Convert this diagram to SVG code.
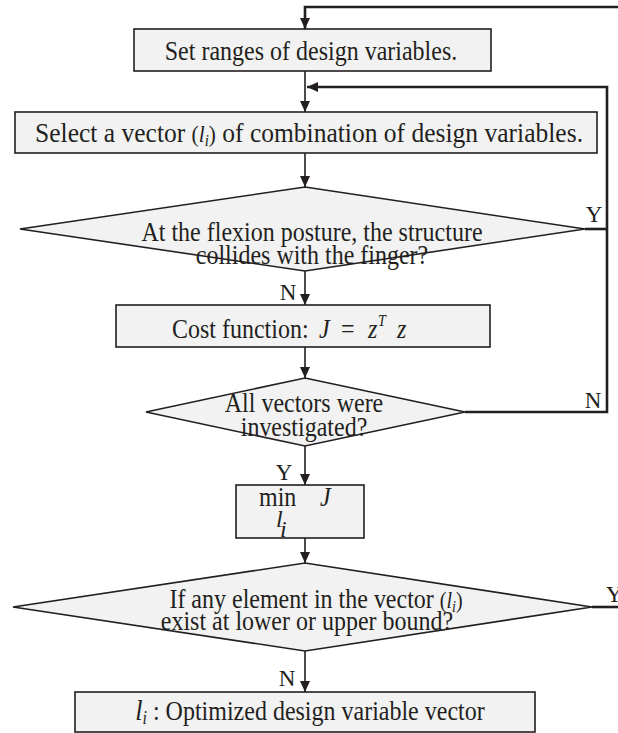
<svg xmlns="http://www.w3.org/2000/svg" width="618" height="733" viewBox="0 0 618 733">
<defs>
<marker id="ah" markerUnits="userSpaceOnUse" markerWidth="12" markerHeight="10" refX="11" refY="5" orient="auto">
<path d="M0,0 L11,5 L0,10 z" fill="#231f20"/>
</marker>
<style>
.n{fill:#f2f2f2;stroke:#231f20;stroke-width:1.6}
.t{font-family:"Liberation Serif","Times New Roman",serif;font-size:24px;fill:#231f20}
.c{text-anchor:middle}
.i{font-style:italic}
.e{fill:none;stroke:#231f20;stroke-width:1.6}
.r{fill:none;stroke:#231f20;stroke-width:2.6}
.lb{font-family:"Liberation Serif","Times New Roman",serif;font-size:23px;fill:#231f20}
</style>
</defs>
<rect width="618" height="733" fill="#ffffff"/>
<g id="connectors">
<path class="r" d="M620,7 H305 V29" marker-end="url(#ah)"/>
<path class="e" d="M305,71 V112" marker-end="url(#ah)"/>
<path class="r" d="M465,412 H607 V87 H307" marker-end="url(#ah)"/>
<path class="r" d="M585,229 H607"/>
<path class="e" d="M305,153 V187" marker-end="url(#ah)"/>
<path class="e" d="M305,271 V305" marker-end="url(#ah)"/>
<path class="e" d="M305,347 V378" marker-end="url(#ah)"/>
<path class="e" d="M305,446 V485" marker-end="url(#ah)"/>
<path class="e" d="M305,538 V563" marker-end="url(#ah)"/>
<path class="r" d="M592,607 H620"/>
<path class="e" d="M305,651 V692" marker-end="url(#ah)"/>
<text class="lb" x="594" y="222" text-anchor="middle">Y</text>
<text class="lb" x="288" y="300" text-anchor="middle">N</text>
<text class="lb" x="593" y="408" text-anchor="middle">N</text>
<text class="lb" x="284" y="480" text-anchor="middle">Y</text>
<text class="lb" x="606" y="602">Y</text>
<text class="lb" x="287" y="686" text-anchor="middle">N</text>
</g>
<g id="box1">
<rect class="n" x="134" y="29" width="357" height="42"/>
<text class="t c" transform="translate(311,60) scale(1,1.12)">Set ranges of design variables.</text>
</g>
<g id="box2">
<rect class="n" x="15" y="112" width="582" height="41"/>
<text class="t c" transform="translate(309,142) scale(1,1.12)" textLength="548" lengthAdjust="spacingAndGlyphs">Select a vector <tspan font-size="20">(</tspan><tspan class="i" font-size="20">l</tspan><tspan font-size="14" dy="4" class="i">i</tspan><tspan font-size="20" dy="-4">)</tspan> of combination of design variables.</text>
</g>
<g id="decision1">
<polygon class="n" points="305,187 585,229 305,271 20,229"/>
<text class="t c" transform="translate(312,241) scale(1,1.12)">At the flexion posture, the structure</text>
<text class="t c" transform="translate(312,264) scale(1,1.12)">collides with the finger?</text>
</g>
<g id="box3">
<rect class="n" x="116" y="305" width="374" height="42"/>
<text class="t" transform="translate(0,338) scale(1,1.12)"><tspan x="172">Cost function:</tspan><tspan class="i" x="319">J</tspan><tspan x="341">=</tspan><tspan class="i" x="368">z</tspan><tspan class="i" font-size="14" x="378" dy="-11">T</tspan><tspan class="i" x="397" dy="11">z</tspan></text>
</g>
<g id="decision2">
<polygon class="n" points="305,378 465,412 305,446 146,412"/>
<text class="t c" transform="translate(304,412) scale(1,1.12)">All vectors were</text>
<text class="t c" transform="translate(304,436) scale(1,1.12)">investigated?</text>
</g>
<g id="box4">
<rect class="n" x="236" y="485" width="128" height="53"/>
<text class="t" transform="translate(259,506) scale(1,1.12)">min</text>
<text class="t i" transform="translate(320,506) scale(1,1.12)">J</text>
<text class="t i" x="276" y="527" font-size="17">l</text>
<text class="t i" x="280" y="537" font-size="14">i</text>
</g>
<g id="decision3">
<polygon class="n" points="305,563 592,607 305,651 13,607"/>
<text class="t c" transform="translate(316,608) scale(1,1.12)">If any element in the vector <tspan font-size="20">(</tspan><tspan class="i" font-size="20">l</tspan><tspan font-size="14" dy="4" class="i">i</tspan><tspan font-size="20" dy="-4">)</tspan></text>
<text class="t c" transform="translate(307,630) scale(1,1.12)">exist at lower or upper bound?</text>
</g>
<g id="box5">
<rect class="n" x="75" y="692" width="460" height="40"/>
<text class="t c" transform="translate(310,720) scale(1,1.12)"><tspan class="i" font-size="26">l</tspan><tspan class="i" font-size="16" dy="4">i</tspan><tspan dy="-4">  : Optimized design variable vector</tspan></text>
</g>
</svg>
